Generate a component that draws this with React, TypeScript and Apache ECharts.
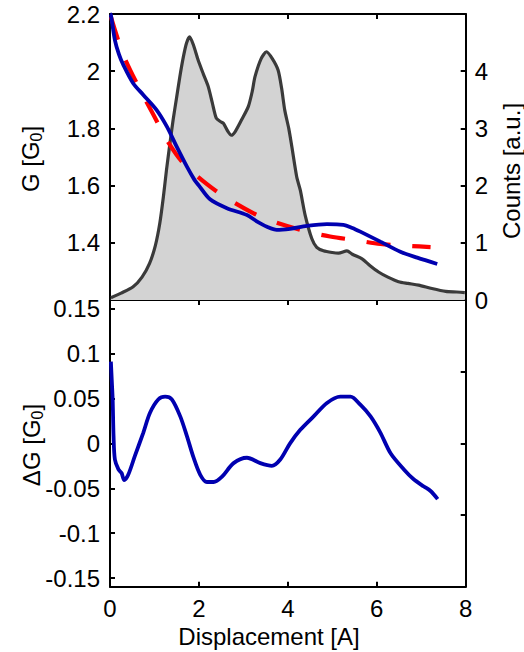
import React, { useEffect, useRef } from "react";
import * as echarts from "echarts";

// Histogram of counts (right axis, top panel)
const histX = [0.02,0.25,0.52,0.72,0.89,1.02,1.12,1.2,1.27,1.35,1.42,1.5,1.57,1.65,1.72,1.79,1.88,1.98,2.1,2.21,2.3,2.39,2.48,2.55,2.65,2.73,2.82,2.96,3.11,3.2,3.26,3.4,3.52,3.65,3.78,3.86,3.93,4.02,4.09,4.2,4.28,4.39,4.54,4.65,4.8,5.0,5.14,5.33,5.45,5.67,5.85,6.04,6.25,6.49,6.7,6.94,7.24,7.55,7.8,7.98];
const histCounts = [0.04,0.12,0.23,0.4,0.64,0.95,1.34,1.8,2.27,2.75,3.15,3.55,3.9,4.25,4.49,4.6,4.45,4.2,3.95,3.73,3.45,3.18,3.12,3.09,2.95,2.88,2.95,3.15,3.38,3.65,3.9,4.22,4.34,4.22,4.02,3.7,3.32,3.0,2.68,2.15,1.92,1.48,1.07,0.92,0.86,0.83,0.82,0.86,0.8,0.72,0.6,0.49,0.4,0.32,0.29,0.26,0.2,0.15,0.14,0.13];

// Conductance trace (blue, top panel)
const gX = [0.0,0.02,0.11,0.2,0.3,0.52,0.75,1.05,1.28,1.5,1.73,1.9,2.0,2.25,2.63,3.08,3.3,3.53,3.75,4.05,4.43,4.88,5.25,5.45,5.63,6.08,6.53,6.91,7.36];
const gY = [2.2,2.197,2.109,2.06,2.022,1.958,1.917,1.864,1.806,1.736,1.666,1.62,1.6,1.552,1.521,1.497,1.475,1.456,1.445,1.449,1.459,1.465,1.463,1.452,1.439,1.404,1.369,1.348,1.326];

// Fit (red dashed, top panel)
const fitX = [0.02,0.3,0.68,0.98,1.28,1.65,2.18,2.63,3.23,3.68,4.43,4.95,5.56,6.08,6.76,7.21];
const fitY = [2.19,2.057,1.934,1.847,1.759,1.678,1.605,1.556,1.503,1.474,1.439,1.422,1.408,1.396,1.389,1.385];

// Residual ΔG (blue, bottom panel)
const dX = [0.02,0.04,0.06,0.08,0.11,0.19,0.26,0.32,0.41,0.56,0.75,0.9,1.09,1.24,1.39,1.58,1.73,1.88,2.03,2.18,2.33,2.52,2.78,3.08,3.38,3.64,3.83,4.05,4.28,4.58,4.88,5.18,5.41,5.63,5.86,6.08,6.31,6.61,6.83,7.06,7.21,7.37];
const dY = [0.091,0.07,0.049,0.008,-0.018,-0.029,-0.033,-0.041,-0.035,-0.014,0.012,0.034,0.049,0.052,0.049,0.03,0.008,-0.016,-0.035,-0.043,-0.043,-0.037,-0.022,-0.016,-0.022,-0.025,-0.018,0.0,0.015,0.03,0.045,0.052,0.052,0.043,0.03,0.012,-0.011,-0.029,-0.04,-0.048,-0.053,-0.062];

const gTicks = [1.4, 1.6, 1.8, 2, 2.2];
const dTicks = [-0.15, -0.1, -0.05, 0, 0.05, 0.1, 0.15];

const zip = (xs: number[], ys: number[]) => xs.map((x, i) => [x, ys[i]]);

const FONT = "Liberation Sans, Arial, sans-serif";
const FS = 24;

export default function App() {
  const ref = useRef<HTMLDivElement>(null);
  useEffect(() => {
    if (!ref.current) return;
    const chart = echarts.init(ref.current, undefined, { renderer: "svg" });
    const line = { show: true, onZero: false, lineStyle: { color: "#000", width: 2 } };
    const tick = { show: true, inside: true, length: 5, lineStyle: { color: "#000", width: 2 } };
    const lbl = { show: true, color: "#000", fontSize: FS, fontFamily: FONT };
    const xBase = { type: "value", min: 0, max: 8, interval: 2, splitLine: { show: false }, axisLine: line, axisTick: tick };
    const rich = {
      a: { fontSize: FS, fontFamily: FONT, color: "#000", lineHeight: 28 },
      b: { fontSize: 16, fontFamily: FONT, color: "#000", lineHeight: 16, verticalAlign: "bottom" },
    };
    const option: any = {
      animation: false,
      backgroundColor: "#fff",
      grid: [
        { left: 110, top: 14, width: 355.7, height: 286 },
        { left: 110, top: 300, width: 355.7, height: 286.7 },
      ],
      xAxis: [
        { ...xBase, gridIndex: 0, position: "bottom", axisLabel: { show: false } },
        { ...xBase, gridIndex: 0, position: "top", axisLabel: { show: false } },
        { ...xBase, gridIndex: 1, position: "bottom", axisLabel: { ...lbl, margin: 10 } },
        { ...xBase, gridIndex: 1, position: "top", axisLabel: { show: false } },
      ],
      yAxis: [
        {
          type: "value", gridIndex: 0, position: "left", min: 1.2, max: 2.2,
          splitLine: { show: false }, axisLine: line,
          axisTick: { ...tick, customValues: gTicks },
          axisLabel: { ...lbl, margin: 10, customValues: gTicks, formatter: (v: number) => String(+v.toFixed(2)) },
        },
        {
          type: "value", gridIndex: 0, position: "right", min: 0, max: 5, interval: 1,
          splitLine: { show: false }, axisLine: line, axisTick: tick,
          axisLabel: { ...lbl, margin: 9, formatter: (v: number) => (v === 5 ? "" : String(v)) },
        },
        {
          type: "value", gridIndex: 1, position: "left", min: -0.1595, max: 0.1595,
          splitLine: { show: false }, axisLine: line,
          axisTick: { ...tick, customValues: dTicks },
          axisLabel: { ...lbl, margin: 10, customValues: dTicks, formatter: (v: number) => String(+v.toFixed(3)) },
        },
        {
          type: "value", gridIndex: 1, position: "right", min: -2, max: 2, interval: 1,
          splitLine: { show: false }, axisLine: line, axisTick: tick, axisLabel: { show: false },
        },
      ],
      series: [
        {
          type: "line", xAxisIndex: 0, yAxisIndex: 1, data: zip(histX, histCounts),
          showSymbol: false, smooth: 0.25,
          lineStyle: { color: "#3a3a3a", width: 3.2 },
          areaStyle: { color: "#d3d3d3", opacity: 1, origin: "start" },
          z: 1,
        },
        {
          type: "line", xAxisIndex: 0, yAxisIndex: 0, data: zip(fitX, fitY),
          showSymbol: false, smooth: 0.3,
          lineStyle: { color: "#ff0000", width: 4.2, type: [24, 22] },
          z: 2,
        },
        {
          type: "line", xAxisIndex: 0, yAxisIndex: 0, data: zip(gX, gY),
          showSymbol: false, smooth: 0.3,
          lineStyle: { color: "#0000b0", width: 3.8 },
          z: 3,
        },
        {
          type: "line", xAxisIndex: 2, yAxisIndex: 2, data: zip(dX, dY),
          showSymbol: false, smooth: 0.3,
          lineStyle: { color: "#0000b0", width: 3.8 },
          z: 3,
        },
      ],
      graphic: [
        {
          type: "text", x: 30, y: 159, rotation: Math.PI / 2,
          style: { text: "{a|G [G}{b|0}{a|]}", rich, align: "center", verticalAlign: "middle" },
        },
        {
          type: "text", x: 31, y: 445, rotation: Math.PI / 2,
          style: { text: "{a|ΔG [G}{b|0}{a|]}", rich, align: "center", verticalAlign: "middle" },
        },
        {
          type: "text", x: 511, y: 171, rotation: Math.PI / 2,
          style: { text: "Counts [a.u.]", fontSize: FS, fontFamily: FONT, fill: "#000", align: "center", verticalAlign: "middle" },
        },
        {
          type: "text", x: 269, y: 636,
          style: { text: "Displacement [A]", fontSize: FS, fontFamily: FONT, fill: "#000", align: "center", verticalAlign: "middle" },
        },
      ],
    };
    chart.setOption(option);
    return () => chart.dispose();
  }, []);
  return (
    <div
      ref={ref}
      style={{ position: "fixed", left: 0, top: 0, width: 524, height: 652, background: "#fff" }}
    />
  );
}
